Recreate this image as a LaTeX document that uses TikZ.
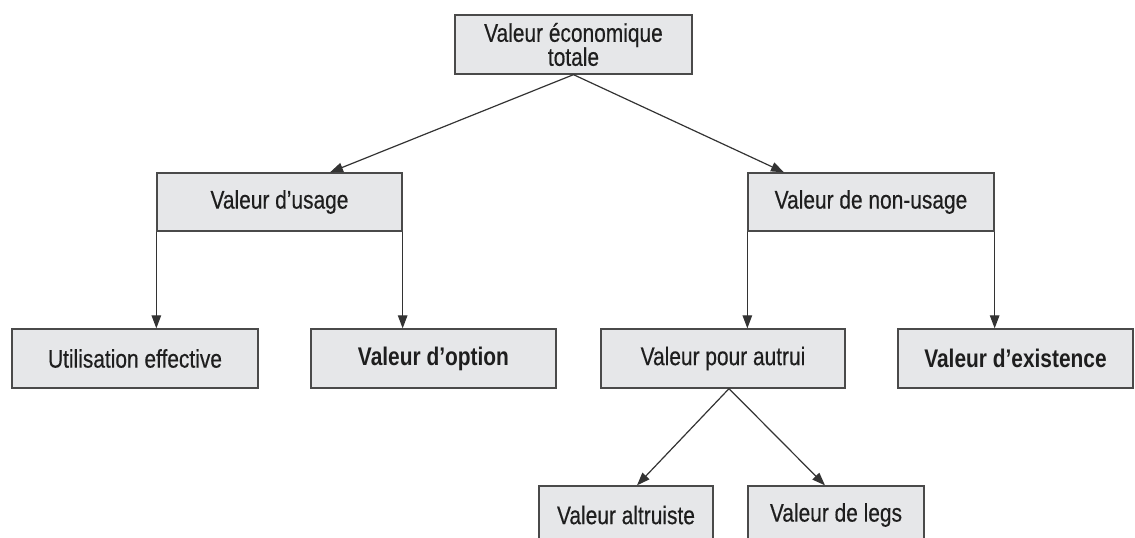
\documentclass[tikz,border=0pt]{standalone}
\usepackage{fontspec}
\setmainfont[FakeStretch=0.82, UprightFeatures={FakeBold=0.4}]{Liberation Sans}
\usetikzlibrary{arrows.meta,calc}
\definecolor{boxfill}{HTML}{E6E7E9}
\definecolor{boxdraw}{HTML}{4A4A4A}
\definecolor{txt}{HTML}{1E1E1E}
\definecolor{conn}{HTML}{333333}
\tikzset{
  vbox/.style={draw=boxdraw, line width=1.3pt, fill=boxfill, text=txt,
    inner sep=0pt, font=\fontsize{25.5}{27}\selectfont, align=center},
  vboxb/.style={vbox, font=\fontsize{25.5}{27}\selectfont\bfseries},
  conn/.style={draw=conn, line width=1.2pt, -{Triangle[length=13pt,width=9.5pt]}}
}
\begin{document}
\begin{tikzpicture}[x=1pt,y=-1pt]
\useasboundingbox (0,0) rectangle (1135,538);
\clip (0,0) rectangle (1135,538);
\node[vbox, minimum width=237pt, minimum height=59pt] (top) at (573.5,44.5) {Valeur économique\\[-3pt]totale};
\node[vbox, minimum width=245pt, minimum height=58pt] (usage) at (279.5,202) {Valeur d’usage};
\node[vbox, minimum width=246pt, minimum height=58pt] (nonusage) at (871,202) {Valeur de non-usage};
\node[vbox, minimum width=246pt, minimum height=59pt] (util) at (135,358.5) {Utilisation effective};
\node[vboxb, minimum width=245pt, minimum height=59pt] (option) at (433.5,358.5) {Valeur d’option};
\node[vbox, minimum width=244pt, minimum height=59pt] (autrui) at (723,358.5) {Valeur pour autrui};
\node[vboxb, minimum width=235pt, minimum height=59pt] (exist) at (1015.5,358.5) {Valeur d’existence};
\node[vbox, minimum width=174pt, minimum height=58pt] (altru) at (626,515) {Valeur altruiste};
\node[vbox, minimum width=176pt, minimum height=58pt] (legs) at (836,515) {Valeur de legs};

\draw[conn] (top.south) -- ([xshift=50.5pt]usage.north);
\draw[conn] (top.south) -- ([xshift=-87pt]nonusage.north);
\draw[conn] (usage.south west) -- (usage.south west |- util.north);
\draw[conn] (usage.south east) -- (usage.south east |- option.north);
\draw[conn] (nonusage.south west) -- (nonusage.south west |- autrui.north);
\draw[conn] (nonusage.south east) -- (nonusage.south east |- exist.north);
\draw[conn] ([xshift=6pt]autrui.south) -- ([xshift=11pt]altru.north);
\draw[conn] ([xshift=6pt]autrui.south) -- ([xshift=-11pt]legs.north);
\end{tikzpicture}
\end{document}
